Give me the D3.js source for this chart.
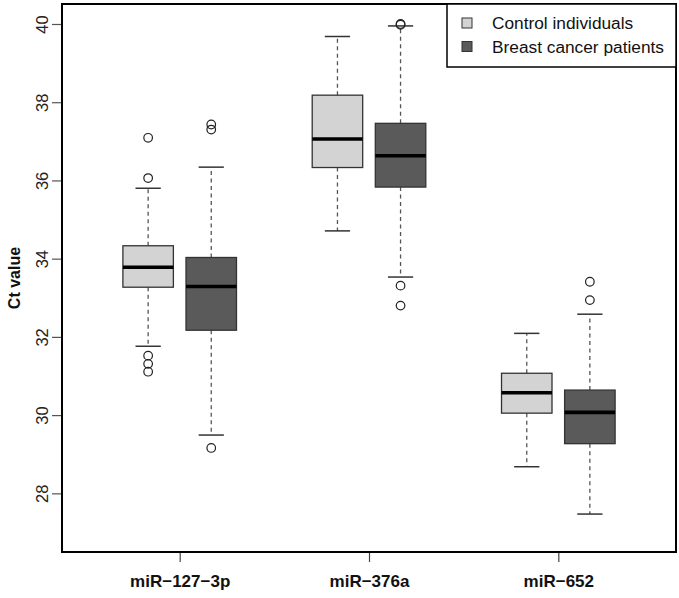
<!DOCTYPE html>
<html>
<head>
<meta charset="utf-8">
<script src="https://cdn.jsdelivr.net/npm/d3@7"></script>
<style>
  html, body { margin: 0; padding: 0; background: #fff; }
  text { font-family: "Liberation Sans", Arial, sans-serif; }
</style>
</head>
<body>
<svg id="chart" width="679" height="598"></svg>
<script>
// ---- data ----
const categories = ["miR\u2212127\u22123p", "miR\u2212376a", "miR\u2212652"];
const groups = ["Control individuals", "Breast cancer patients"];
const groupColors = ["#d3d3d3", "#5a5a5a"];
// [lower whisker, Q1, median, Q3, upper whisker]
const controlStats = [
  [31.76, 33.27, 33.78, 34.33, 35.80],
  [34.71, 36.33, 37.06, 38.18, 39.68],
  [28.68, 30.05, 30.57, 31.07, 32.09]
];
const patientStats = [
  [29.49, 32.17, 33.29, 34.03, 36.34],
  [33.53, 35.83, 36.63, 37.46, 39.95],
  [27.47, 29.27, 30.07, 30.64, 32.58]
];
const controlOutliers = [
  [37.09, 36.06, 31.52, 31.31, 31.11],
  [],
  []
];
const patientOutliers = [
  [37.43, 37.30, 29.16],
  [40.00, 39.98, 33.31, 32.80],
  [33.41, 32.94]
];
const yTicks = [28, 30, 32, 34, 36, 38, 40];
const yLabel = "Ct value";

// ---- layout ----
const svg = d3.select("#chart");
const pL = 62, pR = 676, pT = 4, pB = 552;
const y = d3.scaleLinear().domain([26.5, 40.511]).range([pB, pT]);
const x = d3.scaleLinear().domain([-0.365, 9.365]).range([pL, pR]);
const boxW = x(0.8) - x(0);

const seriesStats = [controlStats, patientStats];
const seriesOut = [controlOutliers, patientOutliers];

const boxes = [];
categories.forEach((c, ci) => {
  groups.forEach((gname, gi) => {
    const s = seriesStats[gi][ci];
    boxes.push({
      pos: ci * 3 + 1 + gi,
      lw: s[0], q1: s[1], med: s[2], q3: s[3], uw: s[4],
      out: seriesOut[gi][ci], color: groupColors[gi]
    });
  });
});

const g = svg.append("g");

boxes.forEach(b => {
  const cx = x(b.pos);
  g.append("line").attr("x1", cx).attr("x2", cx)
    .attr("y1", y(b.q3)).attr("y2", y(b.uw))
    .attr("stroke", "#555").attr("stroke-width", 1.3).attr("stroke-dasharray", "4,3.5");
  g.append("line").attr("x1", cx).attr("x2", cx)
    .attr("y1", y(b.q1)).attr("y2", y(b.lw))
    .attr("stroke", "#555").attr("stroke-width", 1.3).attr("stroke-dasharray", "4,3.5");
  [b.lw, b.uw].forEach(v => {
    g.append("line").attr("x1", cx - boxW / 4).attr("x2", cx + boxW / 4)
      .attr("y1", y(v)).attr("y2", y(v))
      .attr("stroke", "#333").attr("stroke-width", 1.5);
  });
  g.append("rect").attr("x", cx - boxW / 2).attr("width", boxW)
    .attr("y", y(b.q3)).attr("height", y(b.q1) - y(b.q3))
    .attr("fill", b.color).attr("stroke", "#333").attr("stroke-width", 1.3);
  g.append("line").attr("x1", cx - boxW / 2).attr("x2", cx + boxW / 2)
    .attr("y1", y(b.med)).attr("y2", y(b.med))
    .attr("stroke", "#000").attr("stroke-width", 3.6);
  b.out.forEach(v => {
    g.append("circle").attr("cx", cx).attr("cy", y(v)).attr("r", 4.3)
      .attr("fill", "none").attr("stroke", "#222").attr("stroke-width", 1.2);
  });
});

// ---- axes ----
const yAxis = d3.axisLeft(y).tickValues(yTicks).tickSize(10).tickFormat(d3.format("d"));
const ya = svg.append("g").attr("transform", `translate(${pL},0)`).call(yAxis);
ya.select(".domain").remove();
ya.selectAll(".tick line").attr("stroke", "#555").attr("stroke-width", 1.2);
ya.selectAll(".tick text")
  .attr("font-size", 16.5).attr("fill", "#222")
  .attr("text-anchor", "middle")
  .attr("transform", "rotate(-90)")
  .attr("x", 0).attr("y", -14).attr("dy", 0);

const xAxis = d3.axisBottom(x).tickValues(categories.map((c, i) => i * 3 + 1.5))
  .tickSize(10).tickPadding(13).tickFormat((d, i) => categories[i]);
const xa = svg.append("g").attr("transform", `translate(0,${pB})`).call(xAxis);
xa.select(".domain").remove();
xa.selectAll(".tick line").attr("stroke", "#444").attr("stroke-width", 1.2);
xa.selectAll(".tick text").attr("font-size", 17).attr("font-weight", "bold").attr("fill", "#111");

svg.append("rect").attr("x", pL).attr("y", pT)
  .attr("width", pR - pL).attr("height", pB - pT)
  .attr("fill", "none").attr("stroke", "#000").attr("stroke-width", 2);

svg.append("text").attr("transform", `translate(20,${(pT + pB) / 2}) rotate(-90)`)
  .attr("text-anchor", "middle").attr("font-size", 16).attr("font-weight", "bold")
  .attr("fill", "#111").text(yLabel);

// ---- legend ----
const lg = svg.append("g");
lg.append("rect").attr("x", 447).attr("y", pT).attr("width", pR - 447).attr("height", 63)
  .attr("fill", "#fff").attr("stroke", "#000").attr("stroke-width", 1.5);
groups.forEach((name, i) => {
  const cy = 23 + i * 23.5;
  lg.append("rect").attr("x", 462).attr("y", cy - 5).attr("width", 10).attr("height", 10)
    .attr("fill", groupColors[i]).attr("stroke", "#333").attr("stroke-width", 1);
  lg.append("text").attr("x", 492).attr("y", cy + 6).attr("font-size", 17.3)
    .attr("fill", "#111").text(name);
});
</script>
</body>
</html>
